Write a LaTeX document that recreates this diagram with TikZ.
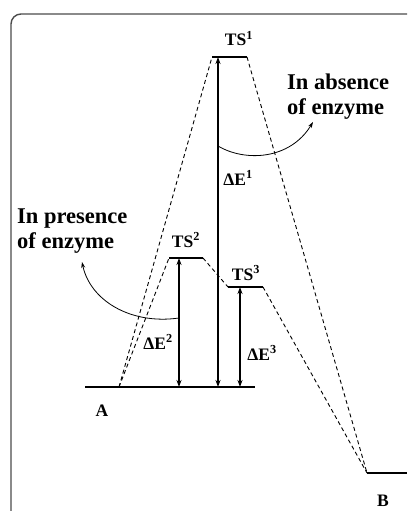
\documentclass[tikz,border=0pt]{standalone}
\usepackage{fontspec}
\setmainfont{Liberation Serif}
\usetikzlibrary{arrows.meta, positioning}

\begin{document}
\begin{tikzpicture}[x=1pt, y=-1pt,
    level/.style={line width=1.1pt},
    route/.style={line width=0.9pt, dash pattern=on 4pt off 3pt},
    gap/.style={line width=1.2pt, {Stealth[length=7pt,width=5pt]}-{Stealth[length=7pt,width=5pt]}},
    pointer/.style={line width=0.8pt, -{Stealth[length=6pt,width=4pt]}},
    lbl/.style={font=\fontsize{17.5}{19}\selectfont\bfseries, inner sep=0pt, anchor=base},
    note/.style={font=\fontsize{22.5}{25}\selectfont\bfseries, inner sep=0pt, align=left, anchor=north west}]
    \useasboundingbox (0,0) rectangle (407,511);
    \clip (0,0) rectangle (407,511);

    % 边框
    \draw[line width=1.4pt, draw=black!70, rounded corners=10pt] (11,530) -- (11,14) -- (430,14);

    % 能级
    \coordinate (gA) at (85,387);
    \coordinate (gE) at (255,387);
    \coordinate (A) at (119,387);
    \coordinate (ts1L) at (212,57);
    \coordinate (ts1R) at (247,57);
    \coordinate (ts2L) at (169,258);
    \coordinate (ts2R) at (203,258);
    \coordinate (ts3L) at (228,287);
    \coordinate (ts3R) at (263,287);
    \coordinate (B) at (367,473);
    \coordinate (bE) at (407,473);

    \draw[level] (gA) -- (gE);
    \draw[level] (ts1L) -- (ts1R);
    \draw[level] (ts2L) -- (ts2R);
    \draw[level] (ts3L) -- (ts3R);
    \draw[level] (B) -- (bE);

    % 反应路径
    \draw[route] (A) -- (ts1L);
    \draw[route] (ts1R) -- (B);
    \draw[route] (A) -- (ts2L);
    \draw[route] (ts2R) -- (ts3L);
    \draw[route] (ts3R) -- (B);

    % 活化能
    \coordinate (e1) at (218,57);
    \coordinate (e2) at (179,258);
    \coordinate (e3) at (240,287);
    \draw[gap] (e1) -- (e1 |- A);
    \draw[gap] (e2) -- (e2 |- A);
    \draw[gap] (e3) -- (e3 |- A);

    % 标签
    \node[lbl] (ts1) at (239,46) {TS\textsuperscript{1}};
    \node[lbl] (ts2) at (186,247) {TS\textsuperscript{2}};
    \node[lbl] (ts3) at (246,280) {TS\textsuperscript{3}};
    \node[lbl] (de1) at (238,185) {ΔE\textsuperscript{1}};
    \node[lbl] (de2) at (158,349) {ΔE\textsuperscript{2}};
    \node[lbl] (de3) at (262,360) {ΔE\textsuperscript{3}};
    \node[lbl] (la) at (102,416) {A};
    \node[lbl] (lb) at (383,506) {B};

    % 说明
    \node[note] (absent) at (287,74) {In absence\\of enzyme};
    \node[note] (present) at (17,209) {In presence\\of enzyme};
    \coordinate (c1) at (218,146);
    \coordinate (t1) at (313,122);
    \coordinate (c2) at (179,318);
    \coordinate (t2) at (82,262);
    \draw[pointer] (c1) .. controls (245,162) and (290,160) .. (t1);
    \draw[pointer] (c2) .. controls (130,325) and (90,300) .. (t2);
\end{tikzpicture}
\end{document}
